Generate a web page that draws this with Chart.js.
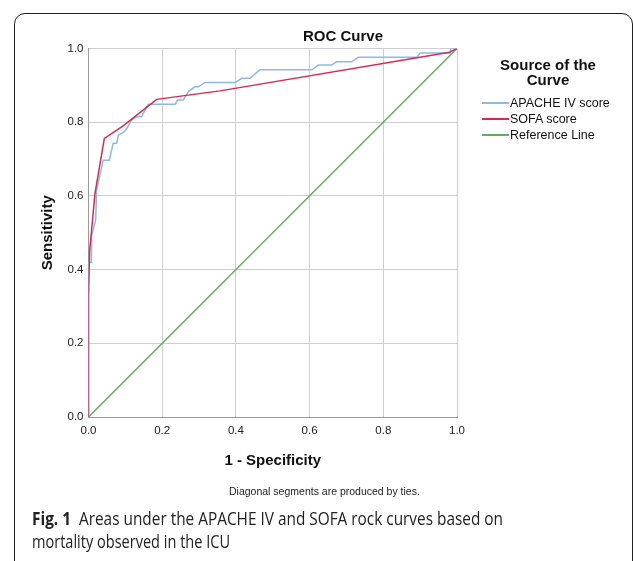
<!DOCTYPE html>
<html>
<head>
<meta charset="utf-8">
<script src="https://cdn.jsdelivr.net/npm/chart.js@4/dist/chart.umd.min.js"></script>
<style>
  html, body { margin: 0; padding: 0; background: #fff; }
  #wrap { position: relative; width: 633px; height: 561px; overflow: hidden; background: #fff; }
  #c { position: absolute; left: 0; top: 0; }
  #frame { position: absolute; left: 14px; top: 13px; width: 619px; height: 620px; box-sizing: border-box;
           border: 1.5px solid #222; border-radius: 11px; }
  .t { position: absolute; white-space: nowrap; color: #111; font-family: "Liberation Sans", Arial, sans-serif; }
  #title { left: 343px; top: 35px; transform: translate(-50%, -50%); font-weight: bold; font-size: 15px; }
  #legTitle { left: 548px; top: 72px; transform: translate(-50%, -50%); font-weight: bold; font-size: 15px; text-align: center; line-height: 15px; }
  .leg { position: absolute; left: 482px; height: 14px; font-family: "Liberation Sans", Arial, sans-serif; font-size: 12.5px; color: #111; white-space: nowrap; }
  .leg .sw { position: absolute; left: 0; top: 6px; width: 27px; height: 2px; }
  .leg span.lbl { position: absolute; left: 28px; top: 0; line-height: 14px; }
  #note { left: 229px; top: 491px; transform: translate(0, -50%); font-size: 10.5px; color: #222; }
  .cap { position: absolute; left: 32px; white-space: nowrap; font-family: "Open Sans", "Noto Sans", sans-serif; font-size: 17.5px; color: #222; line-height: 23px; transform-origin: 0 50%; }
</style>
</head>
<body>
<div id="wrap">
  <canvas id="c" width="633" height="561"></canvas>
  <div id="frame"></div>
  <div class="t" id="title">ROC Curve</div>
  <div class="t" id="legTitle">Source of the<br>Curve</div>
  <div id="legend"></div>
  <div class="t" id="note">Diagonal segments are produced by ties.</div>
  <div class="cap" id="cap1" style="top:507px"><b>Fig. 1</b>&nbsp; Areas under the APACHE IV and SOFA rock curves based on</div>
  <div class="cap" id="cap2" style="top:530px">mortality observed in the ICU</div>
</div>
<script>
// ---- data ----
const seriesNames = ["APACHE IV score", "SOFA score", "Reference Line"];
const apacheX = [0, 0, 0.008, 0.008, 0.0195, 0.022, 0.040, 0.0565, 0.067, 0.0765, 0.081, 0.095, 0.104, 0.117, 0.131, 0.144, 0.162, 0.235, 0.242, 0.257, 0.271, 0.289, 0.298, 0.316, 0.398, 0.416, 0.438, 0.465, 0.606, 0.624, 0.66, 0.673, 0.714, 0.732, 0.891, 0.9, 0.981, 0.983, 1];
const apacheY = [0, 0.42, 0.42, 0.49, 0.535, 0.616, 0.697, 0.697, 0.743, 0.743, 0.765, 0.772, 0.783, 0.806, 0.815, 0.815, 0.849, 0.849, 0.860, 0.860, 0.883, 0.896, 0.896, 0.908, 0.908, 0.919, 0.919, 0.942, 0.942, 0.955, 0.955, 0.964, 0.964, 0.976, 0.976, 0.988, 0.988, 1.0, 1];
const sofaX = [0, 0, 0.003, 0.0176, 0.043, 0.094, 0.185, 0.357, 0.98, 1];
const sofaY = [0, 0.33, 0.45, 0.607, 0.756, 0.79, 0.862, 0.885, 0.99, 1];
const refX = [0, 1];
const refY = [0, 1];
const tickValues = [0, 0.2, 0.4, 0.6, 0.8, 1.0];
const xTitle = "1 - Specificity";
const yTitle = "Sensitivity";

const colors = ["#8DB9E8", "#D72A52", "#62AD5A"];

const toPts = (xs, ys) => xs.map((x, i) => ({ x: x, y: ys[i] }));

// legend (HTML, real text)
const legend = document.getElementById('legend');
const legTops = [96, 112, 128];
seriesNames.forEach((n, i) => {
  const d = document.createElement('div');
  d.className = 'leg';
  d.style.top = legTops[i] + 'px';
  const sw = document.createElement('div');
  sw.className = 'sw';
  sw.style.backgroundColor = colors[i];
  const lbl = document.createElement('span');
  lbl.className = 'lbl';
  lbl.textContent = n;
  d.appendChild(sw);
  d.appendChild(lbl);
  legend.appendChild(d);
});

const tickFont = { family: "'Liberation Sans', Arial, sans-serif", size: 11.5 };
const titleFont = { family: "'Liberation Sans', Arial, sans-serif", size: 15, weight: 'bold' };

new Chart(document.getElementById('c'), {
  type: 'scatter',
  data: {
    datasets: [
      { label: seriesNames[1], data: toPts(sofaX, sofaY), borderColor: colors[1], backgroundColor: colors[1] },
      { label: seriesNames[0], data: toPts(apacheX, apacheY), borderColor: colors[0], backgroundColor: colors[0] },
      { label: seriesNames[2], data: toPts(refX, refY), borderColor: colors[2], backgroundColor: colors[2] }
    ].map(d => Object.assign(d, { showLine: true, pointRadius: 0, borderWidth: 1.5, tension: 0, fill: false }))
  },
  options: {
    responsive: false,
    animation: false,
    devicePixelRatio: 1,
    layout: { padding: { left: 0, top: 48.5, right: 176, bottom: 0 } },
    plugins: { legend: { display: false }, tooltip: { enabled: false }, title: { display: false } },
    scales: {
      x: {
        type: 'linear', min: 0, max: 1,
        afterBuildTicks: s => { s.ticks = tickValues.map(v => ({ value: v })); },
        afterFit: s => { s.height = 144; },
        ticks: { callback: v => Number(v).toFixed(1), font: tickFont, color: '#222', padding: 7, maxRotation: 0 },
        grid: { color: '#CFCFCF', lineWidth: 1, drawTicks: false },
        border: { color: '#9A9A9A', width: 1 },
        title: { display: true, text: xTitle, font: titleFont, color: '#111', padding: { bottom: 91, top: 0 } }
      },
      y: {
        type: 'linear', min: 0, max: 1,
        afterBuildTicks: s => { s.ticks = tickValues.map(v => ({ value: v })); },
        afterFit: s => { s.width = 88.5; },
        ticks: { callback: v => Number(v).toFixed(1), font: tickFont, color: '#222', padding: 5 },
        grid: { color: '#CFCFCF', lineWidth: 1, drawTicks: false },
        border: { color: '#9A9A9A', width: 1 },
        title: { display: true, text: yTitle, font: titleFont, color: '#111', padding: { top: 39, bottom: 0 } }
      }
    }
  }
});

// fit caption lines to the widths measured on the reference
function fit(id, w) {
  const el = document.getElementById(id);
  const cw = el.getBoundingClientRect().width;
  if (cw > 0) el.style.transform = 'scaleX(' + (w / cw) + ')';
}
fit('cap1', 471);
fit('cap2', 198);
</script>
</body>
</html>
